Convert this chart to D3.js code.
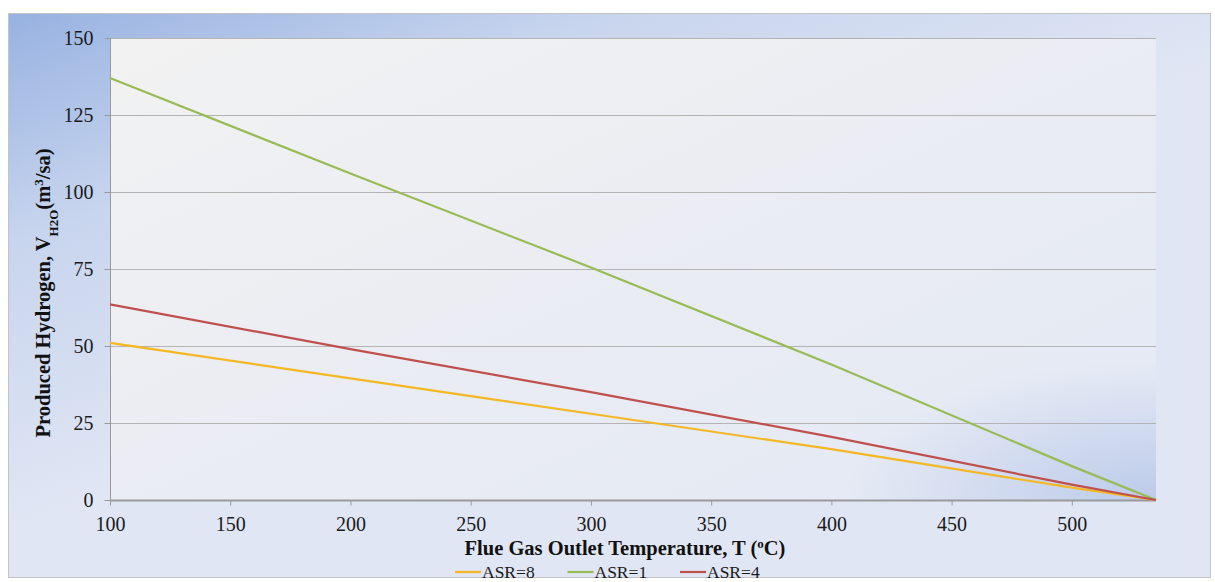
<!DOCTYPE html>
<head>
    <meta charset="utf-8">
</head>

<style type="text/css">
    body { margin: 0; background: #fff; }
    svg { display: block; }
    .grid line { stroke: #b4b4b4; stroke-width: 1; }
    .axis path, .axis line { stroke: #9a9a9a; }
    .series { fill: none; stroke-width: 2.2; }
    .title { font-family: "Liberation Serif", serif; font-weight: bold; font-size: 20.5px; fill: #111; }
    .legend text { font-family: "Liberation Serif", serif; font-size: 17.5px; fill: #1a1a1a; }
</style>

<body>
<div id="chart"></div>
</body>

<script src="https://cdn.jsdelivr.net/npm/d3@7"></script>

<script>

// temperatures (deg C)
var temps = [100, 200, 300, 400, 500, 535];

// produced hydrogen values
var asr8 = [51, 39.5, 28, 16.5, 4, 0];
var asr1 = [137, 106, 75.5, 44, 11, 0];
var asr4 = [63.5, 49, 35, 20.5, 5, 0];

var seriesNames = ["ASR=8", "ASR=1", "ASR=4"];
var seriesValues = [asr8, asr1, asr4];
var seriesColors = ["#f5b722", "#98bb55", "#c0504d"];

var xTicks = [100, 150, 200, 250, 300, 350, 400, 450, 500];
var yTicks = [0, 25, 50, 75, 100, 125, 150];

var W = 1215, H = 582;
var plot = {left: 110, right: 1156, top: 38, bottom: 500};

var svg = d3.select("#chart").append("svg")
    .attr("width", W)
    .attr("height", H);

var defs = svg.append("defs");

var outerGrad = defs.append("linearGradient")
    .attr("id", "outerGrad")
    .attr("x1", 0).attr("y1", 0).attr("x2", 0.45).attr("y2", 0.55);
outerGrad.append("stop").attr("offset", "0%").attr("stop-color", "#97b2e1");
outerGrad.append("stop").attr("offset", "45%").attr("stop-color", "#c8d5ee");
outerGrad.append("stop").attr("offset", "100%").attr("stop-color", "#e0e6f4");

var plotGrad = defs.append("linearGradient")
    .attr("id", "plotGrad")
    .attr("x1", 0).attr("y1", 0).attr("x2", 1).attr("y2", 1);
plotGrad.append("stop").attr("offset", "0%").attr("stop-color", "#f2f2f2");
plotGrad.append("stop").attr("offset", "55%").attr("stop-color", "#e9ecf3");
plotGrad.append("stop").attr("offset", "100%").attr("stop-color", "#e4e9f5");

var cornerGrad = defs.append("radialGradient")
    .attr("id", "cornerGrad")
    .attr("cx", 1).attr("cy", 1).attr("r", 0.3);
cornerGrad.append("stop").attr("offset", "0%").attr("stop-color", "#bccbea").attr("stop-opacity", 1);
cornerGrad.append("stop").attr("offset", "100%").attr("stop-color", "#bccbea").attr("stop-opacity", 0);

// outer chart area
svg.append("rect")
    .attr("x", 8.5).attr("y", 13.5)
    .attr("width", 1202).attr("height", 564)
    .attr("fill", "url(#outerGrad)")
    .attr("stroke", "#c4c4c4");

// plot area
svg.append("rect")
    .attr("x", plot.left).attr("y", plot.top)
    .attr("width", plot.right - plot.left).attr("height", plot.bottom - plot.top)
    .attr("fill", "url(#plotGrad)");
svg.append("rect")
    .attr("x", plot.left).attr("y", plot.top)
    .attr("width", plot.right - plot.left).attr("height", plot.bottom - plot.top)
    .attr("fill", "url(#cornerGrad)");

var x = d3.scaleLinear()
    .domain([100, 535])
    .range([plot.left, plot.right]);

var y = d3.scaleLinear()
    .domain([0, 150])
    .range([plot.bottom, plot.top]);

// gridlines
svg.append("g")
    .attr("class", "grid")
    .selectAll("line")
    .data(yTicks.filter(function(d) { return d > 0; }))
    .enter().append("line")
    .attr("x1", plot.left).attr("x2", plot.right)
    .attr("y1", function(d) { return y(d) + 0.5; })
    .attr("y2", function(d) { return y(d) + 0.5; });

var yAxis = d3.axisLeft(y)
    .tickValues(yTicks)
    .tickSize(6)
    .tickPadding(11)
    .tickFormat(d3.format("d"));

var xAxis = d3.axisBottom(x)
    .tickValues(xTicks)
    .tickSize(5)
    .tickPadding(11)
    .tickFormat(d3.format("d"));

var gy = svg.append("g")
    .attr("class", "axis")
    .attr("transform", "translate(" + (plot.left + 0.5) + ",0)")
    .call(yAxis)
    .attr("font-family", "Liberation Serif")
    .attr("font-size", 20);
gy.select(".domain").attr("d", "M0," + plot.top + "V" + plot.bottom);

var gx = svg.append("g")
    .attr("class", "axis")
    .attr("transform", "translate(0," + (plot.bottom + 0.5) + ")")
    .call(xAxis)
    .attr("font-family", "Liberation Serif")
    .attr("font-size", 20);
gx.select(".domain").attr("d", "M" + plot.left + ",0H" + plot.right).attr("stroke-width", 2);

svg.selectAll(".axis .tick text").attr("fill", "#1a1a1a");

// series lines
var line = d3.line()
    .x(function(d, i) { return x(temps[i]); })
    .y(function(d) { return y(d); });

svg.append("g").selectAll(".series")
    .data(seriesValues)
    .enter().append("path")
    .attr("class", "series")
    .attr("stroke", function(d, i) { return seriesColors[i]; })
    .attr("d", line);

// axis titles
svg.append("text")
    .attr("class", "title")
    .attr("x", 625)
    .attr("y", 555)
    .attr("text-anchor", "middle")
    .html('Flue Gas Outlet Temperature, T (<tspan baseline-shift="super" font-size="13">o</tspan>C)');

svg.append("text")
    .attr("class", "title")
    .attr("transform", "translate(50,293) rotate(-90)")
    .attr("text-anchor", "middle")
    .html('Produced Hydrogen, V<tspan baseline-shift="sub" font-size="13">H2O</tspan>(m<tspan baseline-shift="super" font-size="13">3</tspan>/sa)');

// legend
var legend = svg.append("g")
    .attr("class", "legend")
    .attr("transform", "translate(455,572)");

var item = legend.selectAll("g")
    .data(seriesNames)
    .enter().append("g")
    .attr("transform", function(d, i) { return "translate(" + (i * 112.5) + ",0)"; });

item.append("line")
    .attr("x1", 0).attr("x2", 26)
    .attr("y1", 0).attr("y2", 0)
    .attr("stroke-width", 2.2)
    .attr("stroke", function(d, i) { return seriesColors[i]; });

item.append("text")
    .attr("x", 27)
    .attr("y", 6)
    .text(function(d) { return d; });

</script>
